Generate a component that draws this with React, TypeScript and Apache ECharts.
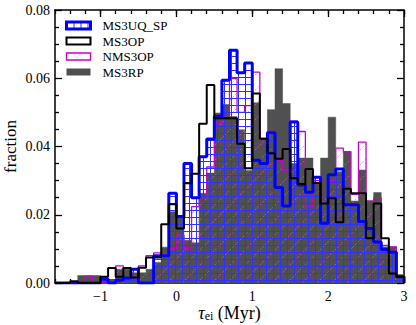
import React, { useEffect, useRef } from "react";
import * as echarts from "echarts";

// Histogram bins: left edges (width 0.1, Myr)
const binStarts = [
  -1.5, -1.4, -1.3, -1.2, -1.1, -1.0, -0.9, -0.8, -0.7, -0.6,
  -0.5, -0.4, -0.3, -0.2, -0.1, 0.0, 0.1, 0.2, 0.3, 0.4,
  0.5, 0.6, 0.7, 0.8, 0.9, 1.0, 1.1, 1.2, 1.3, 1.4,
  1.5, 1.6, 1.7, 1.8, 1.9, 2.0, 2.1, 2.2, 2.3, 2.4,
  2.5, 2.6, 2.7, 2.8, 2.9,
];
const binWidth = 0.1;

const ms3uqSp = [
  0, 0, 0, 0, 0, 0.0012, 0, 0.0008, 0.0015, 0.004,
  0, 0, 0.008, 0.008, 0.0263, 0.0195, 0.035, 0.025, 0.037, 0.0422,
  0.0488, 0.0594, 0.0682, 0.0616, 0.0645, 0.036, 0.035, 0.044, 0.028, 0.0226,
  0.0472, 0.0287, 0.0266, 0.031, 0.0175, 0.0317, 0.0334, 0.0229, 0.0229, 0.018,
  0.016, 0.012, 0.0098, 0.009, 0.0018,
];
const ms3op = [
  0, 0.0005, 0, 0, 0, 0.0018, 0.0044, 0.0018, 0.0044, 0.0016,
  0.0045, 0.0075, 0.0075, 0.0172, 0.0231, 0.016, 0.0292, 0.032, 0.0467, 0.058,
  0.0483, 0.0483, 0.0483, 0.0408, 0.0336, 0.0555, 0.0423, 0.038, 0.0364, 0.0393,
  0.0307, 0.029, 0.0334, 0.0293, 0.0233, 0.0248, 0.0178, 0.0276, 0.0263, 0.0263,
  0.0131, 0.0233, 0.0131, 0.0028, 0.0018,
];
const nms3op = [
  0, 0, 0, 0.002, 0, 0, 0.001, 0.005, 0.001, 0.002,
  0.005, 0.008, 0.0088, 0.0085, 0.0101, 0.014, 0.0101, 0.0224, 0.025, 0.034,
  0.047, 0.048, 0.06, 0.05, 0.052, 0.0618, 0.042, 0.0444, 0.036, 0.033,
  0.0474, 0.0444, 0.0224, 0.03, 0.025, 0.03, 0.0395, 0.0385, 0.026, 0.0413,
  0.024, 0.025, 0.011, 0.0106, 0.002,
];
const ms3rp = [
  0, 0, 0.0022, 0.0022, 0.0022, 0.0015, 0.001, 0.004, 0.004, 0.003,
  0.003, 0.004, 0.006, 0.0105, 0.0209, 0.0195, 0.0125, 0.0118, 0.0263, 0.0322,
  0.0498, 0.0523, 0.0488, 0.0449, 0.033, 0.0528, 0.0425, 0.0508, 0.0628, 0.0526,
  0.035, 0.0366, 0.0366, 0.029, 0.0366, 0.0486, 0.0326, 0.0385, 0.024, 0.0331,
  0.0241, 0.0265, 0.0106, 0.0106, 0.0025,
];

const X_MIN = -1.6;
const X_MAX = 3;
const xMajorTicks = [-1, 0, 1, 2, 3];
const xMinorStep = 0.2;
const yTickLabels = ["0.00", "0.02", "0.04", "0.06", "0.08"];

const FONT = "Liberation Serif";

function stepData(values: number[]): number[][] {
  const pts: number[][] = [[X_MIN, 0]];
  for (let i = 0; i < values.length; i++) pts.push([binStarts[i], values[i]]);
  const end = binStarts[binStarts.length - 1] + binWidth;
  pts.push([end, values[values.length - 1]]);
  pts.push([end, 0]);
  return pts;
}

function makeGrid(): HTMLCanvasElement {
  const c = document.createElement("canvas");
  c.width = 7;
  c.height = 7;
  const ctx = c.getContext("2d")!;
  ctx.strokeStyle = "#3030ff";
  ctx.lineWidth = 1;
  ctx.beginPath();
  ctx.moveTo(0, 0.5);
  ctx.lineTo(7, 0.5);
  ctx.moveTo(0.5, 0);
  ctx.lineTo(0.5, 7);
  ctx.stroke();
  return c;
}

function makeHatch(): HTMLCanvasElement {
  const s = 15;
  const c = document.createElement("canvas");
  c.width = s;
  c.height = s;
  const ctx = c.getContext("2d")!;
  ctx.strokeStyle = "rgba(225,90,225,0.8)";
  ctx.lineWidth = 0.8;
  ctx.setLineDash([2, 1.5]);
  ctx.beginPath();
  ctx.moveTo(0, s);
  ctx.lineTo(s, 0);
  ctx.stroke();
  return c;
}

export default function App() {
  const ref = useRef<HTMLDivElement>(null);

  useEffect(() => {
    if (!ref.current) return;
    const chart = echarts.init(ref.current, null, { renderer: "svg" });

    const gridPat: any = { image: makeGrid(), repeat: "repeat", imageWidth: 7, imageHeight: 7 };
    const hatchPat: any = { image: makeHatch(), repeat: "repeat", imageWidth: 15, imageHeight: 15 };

    const xMinorTicks: number[] = [];
    for (let k = 0; X_MIN + k * xMinorStep <= X_MAX + 1e-9; k++) {
      xMinorTicks.push(Math.round((X_MIN + k * xMinorStep) * 10) / 10);
    }

    const axisLineStyle = { color: "#000", width: 1.5 };
    const tickStyle = { color: "#000", width: 1.3 };

    const xBase = {
      type: "value" as const,
      min: X_MIN,
      max: X_MAX,
      splitLine: { show: false },
    };

    const option: any = {
      animation: false,
      backgroundColor: "#fff",
      grid: { left: 55, right: 12, top: 10, bottom: 42, containLabel: false, outerBoundsMode: "none" },
      legend: {
        orient: "vertical",
        left: 65,
        top: 19,
        itemWidth: 24,
        itemHeight: 7,
        itemGap: 2.5,
        padding: 0,
        selectedMode: false,
        formatter: (name: string) => "{a|" + name + "}",
        textStyle: {
          fontFamily: FONT,
          fontSize: 13,
          color: "#000",
          rich: { a: { fontFamily: FONT, fontSize: 13, color: "#000", padding: [0, 0, 0, 7] } },
        },
        data: [
          { name: "MS3UQ_SP", icon: "rect", itemStyle: { color: gridPat, borderColor: "#0000ff", borderWidth: 3 } },
          { name: "MS3OP", icon: "rect", itemStyle: { color: "#ffffff", borderColor: "#000000", borderWidth: 2 } },
          { name: "NMS3OP", icon: "rect", itemStyle: { color: hatchPat, borderColor: "#cc00cc", borderWidth: 1.3 } },
          { name: "MS3RP", icon: "rect", itemStyle: { color: "#505050", borderColor: "#505050", borderWidth: 0 } },
        ],
      },
      xAxis: [
        {
          ...xBase,
          position: "bottom",
          axisLine: { show: true, onZero: false, lineStyle: axisLineStyle },
          axisTick: { show: true, inside: true, length: 7, customValues: xMajorTicks, lineStyle: tickStyle },
          axisLabel: {
            show: true,
            customValues: xMajorTicks,
            margin: 6,
            fontFamily: FONT,
            fontSize: 14,
            color: "#000",
            formatter: (v: number) => (v < 0 ? "\u2212" + Math.abs(v) : String(v)),
          },
          name: "{t|\u03c4}{s|ei}{n| (Myr)}",
          nameLocation: "middle",
          nameGap: 21,
          nameMoveOverlap: false,
          nameTextStyle: {
            fontFamily: FONT,
            fontSize: 18,
            color: "#000",
            rich: {
              t: { fontFamily: FONT, fontSize: 18, fontStyle: "italic", color: "#000", lineHeight: 18 },
              s: { fontFamily: FONT, fontSize: 12, color: "#000", verticalAlign: "bottom", lineHeight: 18 },
              n: { fontFamily: FONT, fontSize: 18, color: "#000", lineHeight: 18 },
            },
          },
        },
        {
          ...xBase,
          position: "bottom",
          axisLine: { show: false, onZero: false },
          axisTick: { show: true, inside: true, length: 4, customValues: xMinorTicks, lineStyle: tickStyle },
          axisLabel: { show: false },
        },
        {
          ...xBase,
          position: "top",
          axisLine: { show: true, onZero: false, lineStyle: axisLineStyle },
          axisTick: { show: true, inside: true, length: 7, customValues: xMajorTicks, lineStyle: tickStyle },
          axisLabel: { show: false },
        },
        {
          ...xBase,
          position: "top",
          axisLine: { show: false, onZero: false },
          axisTick: { show: true, inside: true, length: 4, customValues: xMinorTicks, lineStyle: tickStyle },
          axisLabel: { show: false },
        },
      ],
      yAxis: [
        {
          type: "value",
          position: "left",
          min: 0,
          max: 0.08,
          interval: 0.02,
          splitLine: { show: false },
          axisLine: { show: true, onZero: false, lineStyle: axisLineStyle },
          axisTick: { show: true, inside: true, length: 7, lineStyle: tickStyle },
          minorTick: { show: true, splitNumber: 4, length: 4, lineStyle: tickStyle },
          minorSplitLine: { show: false },
          axisLabel: {
            fontFamily: FONT,
            fontSize: 14,
            color: "#000",
            margin: 5,
            formatter: (v: number) => yTickLabels[Math.round(v / 0.02)] ?? v.toFixed(2),
          },
          name: "fraction",
          nameLocation: "middle",
          nameGap: 36,
          nameMoveOverlap: false,
          nameTextStyle: { fontFamily: FONT, fontSize: 17, color: "#000" },
        },
        {
          type: "value",
          position: "right",
          min: 0,
          max: 0.08,
          interval: 0.02,
          splitLine: { show: false },
          axisLine: { show: true, onZero: false, lineStyle: axisLineStyle },
          axisTick: { show: true, inside: true, length: 7, lineStyle: tickStyle },
          minorTick: { show: true, splitNumber: 4, length: 4, lineStyle: tickStyle },
          minorSplitLine: { show: false },
          axisLabel: { show: false },
        },
      ],
      series: [
        {
          name: "MS3UQ_SP",
          type: "line",
          step: "end",
          data: stepData(ms3uqSp),
          symbol: "none",
          z: 4,
          silent: true,
          itemStyle: { color: "#0000ff" },
          lineStyle: { color: "#0000ff", width: 3 },
          areaStyle: { color: gridPat, opacity: 1 },
        },
        {
          name: "MS3OP",
          type: "line",
          step: "end",
          data: stepData(ms3op),
          symbol: "none",
          z: 5,
          silent: true,
          itemStyle: { color: "#000000" },
          lineStyle: { color: "#000000", width: 2 },
        },
        {
          name: "NMS3OP",
          type: "line",
          step: "end",
          data: stepData(nms3op),
          symbol: "none",
          z: 3,
          silent: true,
          itemStyle: { color: "#cc00cc" },
          lineStyle: { color: "#cc00cc", width: 1.3 },
          areaStyle: { color: hatchPat, opacity: 1 },
        },
        {
          name: "MS3RP",
          type: "line",
          step: "end",
          data: stepData(ms3rp),
          symbol: "none",
          z: 2,
          silent: true,
          itemStyle: { color: "#505050" },
          lineStyle: { color: "#505050", width: 0.5 },
          areaStyle: { color: "#505050", opacity: 1 },
        },
      ],
    };

    chart.setOption(option);
    return () => chart.dispose();
  }, []);

  return (
    <div
      ref={ref}
      style={{ position: "fixed", left: 0, top: 0, width: 416, height: 325, background: "#fff" }}
    />
  );
}
